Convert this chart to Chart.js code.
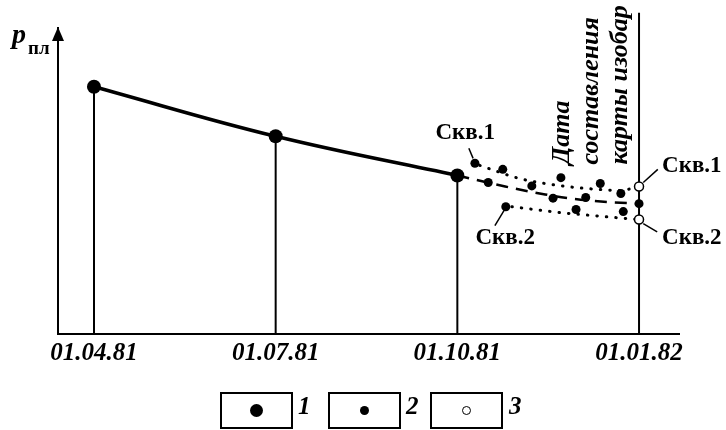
<!DOCTYPE html>
<html>
<head>
<meta charset="utf-8">
<script src="https://cdn.jsdelivr.net/npm/chart.js@4/dist/chart.umd.min.js"></script>
<style>
  html, body { margin: 0; padding: 0; background: #fff; }
  #wrap { position: relative; width: 726px; height: 430px; }
  #chart { position: absolute; left: 0; top: 0; }
  .box {
    position: absolute; top: 392px; width: 73px; height: 37px;
    border: 2px solid #000; box-sizing: border-box;
    display: flex; align-items: center; justify-content: center;
  }
  .box span { display: block; border-radius: 50%; background: #000; box-sizing: border-box; }
  .lbl {
    position: absolute; top: 392px; height: 37px; line-height: 37px;
    font: italic bold 25px "Liberation Serif", serif; color: #000;
  }
</style>
</head>
<body>
<div id="wrap">
  <canvas id="chart" width="726" height="430"></canvas>
  <div class="box" style="left:220px"><span style="width:13px;height:13px"></span></div>
  <div class="lbl" style="left:298px">1</div>
  <div class="box" style="left:328px"><span style="width:9px;height:9px"></span></div>
  <div class="lbl" style="left:406px">2</div>
  <div class="box" style="left:430px"><span style="width:9px;height:9px;background:#fff;border:1.5px solid #000"></span></div>
  <div class="lbl" style="left:509px">3</div>
</div>
<script>
// Dates on the x axis, in months after 01.04.81
const dateLabels = ["01.04.81", "01.07.81", "01.10.81", "01.01.82"];
const dateMonths = [0, 3, 6, 9];

// 1 - reservoir pressure at the dates
const measuredP = [80.8, 64.6, 51.8];

// 2 - single well measurements after 01.10.81
const wellX = [6.29, 6.51, 6.75, 6.80, 7.23, 7.58, 7.71, 7.96, 8.12, 8.36, 8.70, 8.74, 9];
const wellP = [55.8, 49.5, 53.8, 41.6, 48.4, 44.4, 51.1, 40.7, 44.6, 49.2, 45.9, 40.0, 42.6];

// 3 - values brought to the map date
const mapX = [9, 9];
const mapP = [48.2, 37.4];

// trend lines
const avgX = [6, 6.79, 7.45, 7.86, 8.52, 9];
const avgP = [51.8, 48.2, 45.6, 44.3, 43.1, 42.6];
const well1X = [6.37, 7.03, 7.69, 8.36, 8.69, 9];
const well1P = [55.1, 50.8, 48.5, 47.2, 46.9, 48.2];
const well2X = [6.90, 7.69, 8.24, 8.64, 9];
const well2P = [41.6, 39.7, 38.7, 38.0, 37.4];
const mapDateTop = 105;

const pts = (xs, ys) => xs.map((x, i) => ({ x: x, y: ys[i] }));

// text notes, in data units
const notes = [
  { text: "Скв.1", x: 6.13, y: 65.6, align: "center", from: [6.19, 60.7], to: [6.26, 57.4] },
  { text: "Скв.2", x: 6.79, y: 31.5, align: "center", from: [6.79, 41.0], to: [6.62, 35.4] },
  { text: "Скв.1", x: 9.38, y: 54.8, align: "left", from: [9.07, 49.5], to: [9.31, 53.8] },
  { text: "Скв.2", x: 9.38, y: 31.5, align: "left", from: [9.07, 36.1], to: [9.30, 33.4] }
];
const dateNote = ["Дата", "составления", "карты изобар"];
const dateNoteX = [7.74, 8.21, 8.69];
const dateNoteY = 55.4;

const lineDs = (data, extra) => Object.assign({
  type: "line", data: data, borderColor: "#000", borderWidth: 2,
  pointRadius: 0, fill: false, order: 2
}, extra);

const datasets = [
  // vertical date lines
  ...dateMonths.slice(0, 3).map((m, i) => lineDs([{ x: m, y: 0 }, { x: m, y: measuredP[i] }])),
  lineDs([{ x: 9, y: 0 }, { x: 9, y: mapDateTop }], { clip: false }),
  // main curve
  lineDs(pts(dateMonths.slice(0, 3), measuredP), { borderWidth: 3.5, tension: 0.4 }),
  // average trend
  lineDs(pts(avgX, avgP), { borderWidth: 2.5, borderDash: [12, 8], cubicInterpolationMode: "monotone" }),
  // well trends
  lineDs(pts(well1X, well1P), { borderWidth: 3, borderDash: [0.5, 9], borderCapStyle: "round", cubicInterpolationMode: "monotone" }),
  lineDs(pts(well2X, well2P), { borderWidth: 3, borderDash: [0.5, 9], borderCapStyle: "round", cubicInterpolationMode: "monotone" }),
  // points
  { type: "scatter", data: pts(dateMonths.slice(0, 3), measuredP), pointRadius: 7,
    backgroundColor: "#000", borderWidth: 0, order: 0 },
  { type: "scatter", data: pts(wellX, wellP), pointRadius: 4.5,
    backgroundColor: "#000", borderWidth: 0, order: 0 },
  { type: "scatter", data: pts(mapX, mapP), pointRadius: 4.5,
    backgroundColor: "#fff", borderColor: "#000", borderWidth: 1.5, order: 0 }
];

const notesPlugin = {
  id: "notes",
  afterDraw(chart) {
    const ctx = chart.ctx;
    const xs = chart.scales.x, ys = chart.scales.y;
    const area = chart.chartArea;
    ctx.save();
    ctx.fillStyle = "#000";
    ctx.strokeStyle = "#000";

    // arrow on the y axis
    ctx.beginPath();
    ctx.moveTo(area.left, area.top - 1);
    ctx.lineTo(area.left - 6, area.top + 13);
    ctx.lineTo(area.left + 6, area.top + 13);
    ctx.closePath();
    ctx.fill();

    // axis name p_пл
    ctx.textBaseline = "alphabetic";
    ctx.textAlign = "left";
    ctx.font = "italic bold 28px 'Liberation Serif'";
    ctx.fillText("p", area.left - 46, area.top + 15);
    ctx.font = "bold 19px 'Liberation Serif'";
    ctx.fillText("пл", area.left - 30, area.top + 26);

    // well labels with leaders
    ctx.font = "bold 23px 'Liberation Serif'";
    ctx.textBaseline = "middle";
    ctx.lineWidth = 1.5;
    notes.forEach(n => {
      ctx.textAlign = n.align;
      ctx.fillText(n.text, xs.getPixelForValue(n.x), ys.getPixelForValue(n.y));
      ctx.beginPath();
      ctx.moveTo(xs.getPixelForValue(n.from[0]), ys.getPixelForValue(n.from[1]));
      ctx.lineTo(xs.getPixelForValue(n.to[0]), ys.getPixelForValue(n.to[1]));
      ctx.stroke();
    });

    // rotated note about the map date
    ctx.font = "italic bold 26px 'Liberation Serif'";
    ctx.textAlign = "left";
    dateNote.forEach((t, i) => {
      ctx.save();
      ctx.translate(xs.getPixelForValue(dateNoteX[i]), ys.getPixelForValue(dateNoteY));
      ctx.rotate(-Math.PI / 2);
      ctx.fillText(t, 0, 0);
      ctx.restore();
    });
    ctx.restore();
  }
};

new Chart(document.getElementById("chart"), {
  type: "scatter",
  data: { datasets: datasets },
  options: {
    responsive: false,
    animation: false,
    events: [],
    layout: { padding: { left: 58, right: 47, top: 28, bottom: 56 } },
    plugins: { legend: { display: false }, tooltip: { enabled: false } },
    scales: {
      x: {
        type: "linear", min: -0.594, max: 9.66,
        grid: { display: false, drawTicks: false },
        border: { display: true, color: "#000", width: 2 },
        afterBuildTicks: (s) => { s.ticks = dateMonths.map(v => ({ value: v })); },
        ticks: {
          color: "#000", padding: 5, maxRotation: 0, autoSkip: false,
          font: { family: "'Liberation Serif'", size: 25, style: "italic", weight: "bold" },
          callback: (v) => dateLabels[dateMonths.indexOf(v)]
        }
      },
      y: {
        min: 0, max: 100,
        grid: { display: false, drawTicks: false },
        border: { display: true, color: "#000", width: 2 },
        ticks: { display: false }
      }
    }
  },
  plugins: [notesPlugin]
});
</script>
</body>
</html>
